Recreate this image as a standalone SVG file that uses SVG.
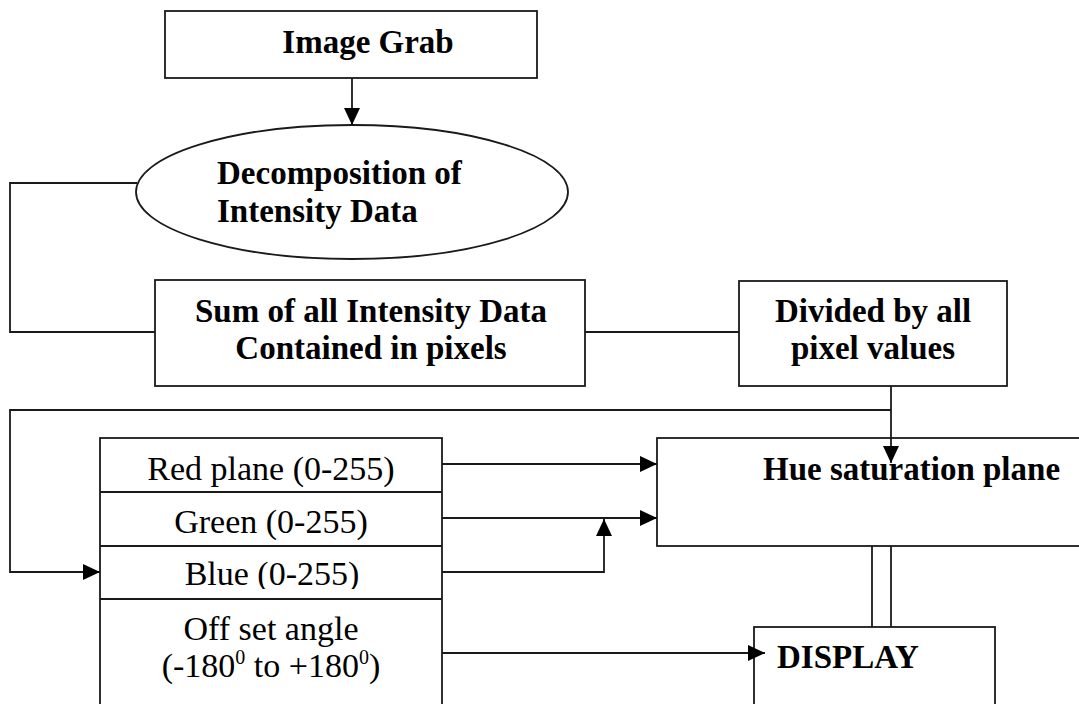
<svg xmlns="http://www.w3.org/2000/svg" width="1079" height="704" viewBox="0 0 1079 704">
<style>
.box{fill:#fff;stroke:#1a1a1a;stroke-width:1.8}
.ln{fill:none;stroke:#1a1a1a;stroke-width:1.8}
.b{font-family:"Liberation Serif","Times New Roman",serif;font-weight:bold;font-size:33px;fill:#000}
.r{font-family:"Liberation Serif","Times New Roman",serif;font-size:34px;fill:#000}
</style>
<defs>
<marker id="ah" markerUnits="userSpaceOnUse" markerWidth="18" markerHeight="18" viewBox="0 0 18 18" refX="17" refY="9" orient="auto">
<path d="M0,1 L17,9 L0,17 Z" fill="#000"/>
</marker>
<clipPath id="blueclip"><rect x="100" y="546" width="342" height="43"/></clipPath>
</defs>
<rect width="1079" height="704" fill="#fff"/>
<g id="image-grab">
<rect class="box" x="165" y="11" width="372" height="67"/>
<text class="b" x="368" y="53" text-anchor="middle">Image Grab</text>
</g>
<g id="decomposition">
<ellipse class="box" cx="352" cy="192" rx="216" ry="67"/>
<text class="b" x="217" y="184">Decomposition of</text>
<text class="b" x="217" y="222">Intensity Data</text>
</g>
<g id="sum">
<rect class="box" x="155" y="280" width="430" height="106"/>
<text class="b" x="371" y="322" text-anchor="middle">Sum of all Intensity Data</text>
<text class="b" x="371" y="359" text-anchor="middle">Contained in pixels</text>
</g>
<g id="divided">
<rect class="box" x="739" y="281" width="268" height="105"/>
<text class="b" x="873" y="322" text-anchor="middle">Divided by all</text>
<text class="b" x="873" y="359" text-anchor="middle">pixel values</text>
</g>
<g id="hue">
<rect class="box" x="657" y="438" width="440" height="108"/>
<text class="b" x="763" y="480">Hue saturation plane</text>
</g>
<g id="planes">
<rect class="box" x="100" y="438" width="342" height="300"/>
<line class="ln" x1="100" y1="492" x2="442" y2="492"/>
<line class="ln" x1="100" y1="546" x2="442" y2="546"/>
<line class="ln" x1="100" y1="599" x2="442" y2="599"/>
<text class="r" x="271" y="480" text-anchor="middle">Red plane (0-255)</text>
<text class="r" x="271" y="533" text-anchor="middle">Green (0-255)</text>
<text class="r" x="272" y="585" text-anchor="middle" clip-path="url(#blueclip)">Blue (0-255)</text>
<text class="r" x="271" y="640" text-anchor="middle">Off set angle</text>
<text class="r" x="271" y="677" text-anchor="middle">(-180<tspan font-size="20" dy="-13">0</tspan><tspan dy="13"> to +180</tspan><tspan font-size="20" dy="-13">0</tspan><tspan dy="13">)</tspan></text>
</g>
<g id="display">
<rect class="box" x="754" y="627" width="241" height="100"/>
<text class="b" x="777" y="668">DISPLAY</text>
</g>
<g id="connectors">
<line class="ln" x1="352" y1="78" x2="352" y2="125" marker-end="url(#ah)"/>
<polyline class="ln" points="137,183 10,183 10,332 155,332"/>
<line class="ln" x1="585" y1="332" x2="739" y2="332"/>
<line class="ln" x1="891" y1="386" x2="891" y2="463" marker-end="url(#ah)"/>
<polyline class="ln" points="891,410 10,410 10,572 100,572" marker-end="url(#ah)"/>
<line class="ln" x1="442" y1="464" x2="657" y2="464" marker-end="url(#ah)"/>
<line class="ln" x1="442" y1="518" x2="657" y2="518" marker-end="url(#ah)"/>
<polyline class="ln" points="442,572 604,572 604,519" marker-end="url(#ah)"/>
<line class="ln" x1="442" y1="653" x2="765" y2="653" marker-end="url(#ah)"/>
<line class="ln" x1="872" y1="546" x2="872" y2="627"/>
<line class="ln" x1="891" y1="546" x2="891" y2="627"/>
</g>
</svg>
